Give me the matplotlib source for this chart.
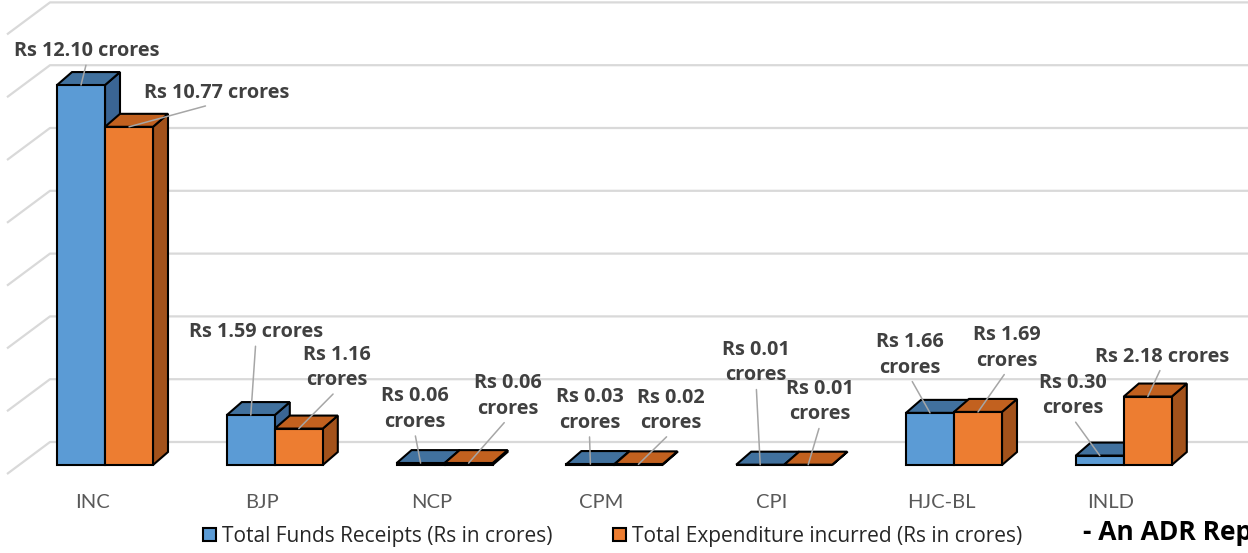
import matplotlib
matplotlib.use('Agg')
import matplotlib.pyplot as plt
from matplotlib.patches import Polygon, Rectangle, Patch

# datos del grafico (Rs en crores)
parties = ['INC', 'BJP', 'NCP', 'CPM', 'CPI', 'HJC-BL', 'INLD']
receipts = [12.10, 1.59, 0.06, 0.03, 0.01, 1.66, 0.30]
expenditure = [10.77, 1.16, 0.06, 0.02, 0.01, 1.69, 2.18]
series_names = ['Total Funds Receipts (Rs in crores)',
                'Total Expenditure incurred (Rs in crores)']
gridlines = [0, 2, 4, 6, 8, 10, 12, 14]

# posiciones de las etiquetas (desplazamiento en pixeles desde la barra)
recv_offsets = [(6, 34), (5, 83), (-6, 54), (-1, 54), (-4, 102), (-20, 58), (-27, 60)]
exp_offsets = [(88, 34), (38, 61), (39, 67), (32, 54), (12, 63), (29, 64), (14, 40)]
recv_wrap = [False, False, True, True, True, True, True]
exp_wrap = [False, True, True, True, True, True, False]

# escala: pixeles por unidad
PX_X = 169.8
PX_Y = 31.4
W = 48 / PX_X                  # ancho de cada barra
DX, DY = 15 / PX_X, 13 / PX_Y  # profundidad de la barra

colors = {
    0: ('#5B9BD5', '#41719E', '#3A6594'),
    1: ('#ED7D31', '#C2611F', '#A3521B'),
}

fig = plt.figure(figsize=(12.48, 5.53), dpi=100)
ax = fig.add_axes([0, 0, 1, 1])
ax.set_xlim(-105 / PX_X, (1248 - 105) / PX_X)
ax.set_ylim((465 - 553) / PX_Y, 465 / PX_Y)
ax.axis('off')

# cuadricula de la pared del fondo
wall_left = (50 - 105) / PX_X
wall_front = (7 - 105) / PX_X
wall_up = 23 / PX_Y
slant_down = 32 / PX_Y
for g in gridlines:
    yb = g + wall_up
    ax.plot([wall_front, wall_left, 10], [yb - slant_down, yb, yb],
            color='#D9D9D9', lw=1.6, zorder=1, solid_capstyle='butt')


def draw_bar(x0, v, s, z):
    front, top, side = colors[s]
    x1 = x0 + W
    ax.add_patch(Polygon([(x1, 0), (x1 + DX, DY), (x1 + DX, v + DY), (x1, v)],
                         closed=True, fc=side, ec='black', lw=1.5, zorder=z))
    ax.add_patch(Polygon([(x0, v), (x1, v), (x1 + DX, v + DY), (x0 + DX, v + DY)],
                         closed=True, fc=top, ec='black', lw=1.5, zorder=z))
    ax.add_patch(Rectangle((x0, 0), W, v, fc=front, ec='black', lw=1.5, zorder=z))


for i in range(len(parties)):
    draw_bar(i - W, receipts[i], 0, 2)
    draw_bar(i, expenditure[i], 1, 3)


def label(x, v, off, wrap):
    txt = 'Rs %.2f\ncrores' % v if wrap else 'Rs %.2f crores' % v
    ax.annotate(txt, xy=(x, v), xytext=(off[0], off[1]), textcoords='offset pixels',
                ha='center', va='center', fontsize=14.3, fontweight='bold',
                family='Open Sans', color='#404040', linespacing=1.36, zorder=5,
                arrowprops=dict(arrowstyle='-', color='#A6A6A6', lw=1.1,
                                relpos=(0.5, 0), shrinkA=1, shrinkB=0))


for i in range(len(parties)):
    label(i - W / 2, receipts[i], recv_offsets[i], recv_wrap[i])
    label(i + W / 2, expenditure[i], exp_offsets[i], exp_wrap[i])

# etiquetas de categorias
for i, p in enumerate(parties):
    ax.annotate(p, xy=(i, 0), xytext=(-13, -38), textcoords='offset pixels',
                ha='center', va='center', fontsize=14.5, family='Lato', color='#595959')

# leyenda
handles = [Patch(fc=colors[0][0], ec='black', lw=1.5),
           Patch(fc=colors[1][0], ec='black', lw=1.5)]
fig.legend(handles, series_names, loc='lower left', bbox_to_anchor=(203 / 1248, 6 / 553),
           ncol=2, frameon=False, prop={'family': 'Open Sans', 'size': 15},
           handlelength=0.62, handleheight=0.62, handletextpad=0.3,
           columnspacing=2.9, borderpad=0, borderaxespad=0, labelcolor='#262626')

fig.text(1083 / 1248, 1 - 533 / 553, '- An ADR Report', ha='left', va='center',
         fontsize=19, fontweight='bold', family='Open Sans', color='black')

plt.savefig('out.png', dpi=100)
